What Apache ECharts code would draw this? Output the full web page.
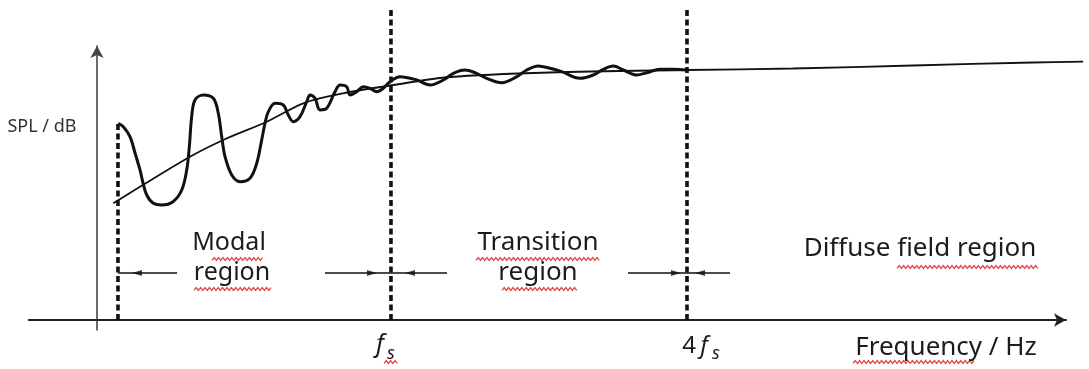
<!DOCTYPE html>
<html><head><meta charset="utf-8">
<script src="https://cdn.jsdelivr.net/npm/echarts@6/dist/echarts.min.js"></script>
<style>html,body{margin:0;padding:0;background:#fff}#c{width:1089px;height:369px}</style>
</head><body><div id="c"></div>
<script>
// Abstract units: x = relative frequency position (0 at SPL axis), y = relative SPL
const trendX = [1.67, 4.41, 9.54, 12.95, 17.41, 21.16, 25.26, 30.39, 36.21, 46.46, 60.51, 71.38, 83.69, 96.0, 101.13];
const trendY = [41.98, 47.95, 58.74, 64.75, 71.33, 77.95, 81.55, 84.53, 87.41, 89.03, 89.93, 90.47, 91.55, 92.63, 92.91];

const respX = [2.18, 2.70, 3.38, 3.90, 4.41, 4.72, 5.10, 5.74, 6.64, 7.79, 8.69, 9.20, 9.47, 9.71, 10.05, 10.90, 11.93, 12.44, 12.79, 13.13, 13.82, 14.67, 15.69, 16.38, 16.89, 17.23, 17.57, 18.26, 19.11, 19.62, 20.13, 20.82, 21.51, 21.85, 22.36, 22.87, 23.56, 24.41, 24.92, 25.61, 25.95, 26.64, 27.31, 28.0, 28.69, 29.36, 30.05, 31.08, 32.79, 34.15, 35.52, 36.54, 37.74, 38.77, 39.97, 41.51, 43.05, 44.07, 45.26, 46.46, 47.66, 49.54, 50.9, 51.93, 52.95, 53.98, 55.35, 56.38, 57.74, 59.11, 60.48];
const respY = [70.76, 69.53, 65.94, 60.07, 53.96, 49.28, 44.96, 42.09, 41.37, 42.55, 46.76, 53.96, 62.34, 73.13, 79.14, 80.94, 79.75, 74.35, 65.94, 58.74, 52.16, 49.75, 50.97, 56.37, 64.75, 70.76, 74.93, 77.95, 77.34, 73.74, 71.33, 73.13, 78.53, 80.94, 79.75, 75.54, 76.15, 82.12, 84.53, 83.92, 80.94, 82.12, 83.92, 83.35, 82.12, 83.35, 85.72, 87.52, 86.33, 84.53, 86.33, 88.74, 89.93, 88.96, 86.94, 85.36, 87.52, 89.93, 91.37, 90.54, 89.32, 86.94, 88.13, 90.18, 91.37, 89.93, 88.13, 88.96, 90.18, 90.18, 89.93];

const boundaryX = [2.15, 30.15, 60.51];
const boundaryTop = [70.5, 111.5, 111.5];

const arrowLevel = 16.9;
const arrowSegments = [[2.15, 8.21], [23.38, 30.15], [30.15, 35.9], [54.46, 60.51], [60.51, 64.92]];
const arrowHeadsLeft = [4.10, 32.1, 61.85];
const arrowHeadsRight = [28.2, 59.38];

const regionLabels = ['Modal', 'region', 'Transition', 'region', 'Diffuse field region'];
const axisTitles = ['SPL / dB', 'Frequency / Hz'];
const tickLabels = [['', 'f', 's'], ['4', 'f', 's']];

(function () {
const FONT = '"Noto Sans", "Open Sans", sans-serif';
const X_MIN = -7, X_MAX = 99.38, Y_MIN = -3.6, Y_MAX = 98.56;
const PX_PER_X = 9.7505;
const X_MAX_WIDE = 101.6;
const series = [];
const onPlot = { xAxisIndex: 1, yAxisIndex: 1 };

boundaryX.forEach((x, i) => {
  series.push(Object.assign({
    type: 'line', data: [[x, 0], [x, boundaryTop[i]]], symbol: 'none', clip: false, silent: true,
    lineStyle: { color: '#111', width: 3.6, type: [6, 3.5] }, z: 3
  }, onPlot));
});

series.push(Object.assign({
  type: 'line', data: trendX.map((x, i) => [x, trendY[i]]), symbol: 'none', clip: false,
  smooth: 0.3, lineStyle: { color: '#111', width: 1.8 }, z: 4
}, onPlot));
series.push(Object.assign({
  type: 'line', data: respX.map((x, i) => [x, respY[i]]), symbol: 'none', clip: false,
  smooth: 0.35, lineStyle: { color: '#111', width: 3 }, z: 5
}, onPlot));

arrowSegments.forEach(s => {
  series.push(Object.assign({
    type: 'line', data: [[s[0], arrowLevel], [s[1], arrowLevel]], symbol: 'none',
    lineStyle: { color: '#111', width: 1.6 }, z: 4
  }, onPlot));
});
series.push(Object.assign({
  type: 'scatter', data: arrowHeadsLeft.map(x => [x, arrowLevel]),
  symbol: 'path://M10,0 L0,4 L10,8 Z', symbolSize: [10, 6], itemStyle: { color: '#111' }, z: 6
}, onPlot));
series.push(Object.assign({
  type: 'scatter', data: arrowHeadsRight.map(x => [x, arrowLevel]),
  symbol: 'path://M0,0 L10,4 L0,8 Z', symbolSize: [10, 6], itemStyle: { color: '#111' }, z: 6
}, onPlot));

function txt(t, x, y, size, opts) {
  return {
    type: 'text', x: x, y: y, z: 10,
    style: Object.assign({ text: t, fontSize: size, fontFamily: FONT, fill: '#1c1c1c', align: 'center', verticalAlign: 'middle' }, (opts || {}))
  };
}
// spell-check style wavy underline seen in the source image
function squiggle(x1, x2, y) {
  const pts = [];
  let k = 0;
  for (let x = x1; x <= x2; x += 2.2, k++) pts.push([x, y + (k % 2 ? -1.4 : 1.4)]);
  return { type: 'polyline', z: 9, shape: { points: pts }, style: { stroke: '#df4a4a', lineWidth: 1.3, fill: null } };
}

const gLeft = 28.75, gTop = 46, gBottom = 39;
const chart = echarts.init(document.getElementById('c'));
const hiddenAxis = { show: false };
chart.setOption({
  animation: false,
  backgroundColor: '#fff',
  grid: [
    { left: gLeft, right: 1089 - gLeft - (X_MAX - X_MIN) * PX_PER_X, top: gTop, bottom: gBottom, containLabel: false },
    { left: gLeft, right: 1089 - gLeft - (X_MAX_WIDE - X_MIN) * PX_PER_X, top: gTop, bottom: gBottom, containLabel: false }
  ],
  xAxis: [{
    type: 'value', min: X_MIN, max: X_MAX, gridIndex: 0,
    axisLine: { onZero: true, symbol: ['none', 'arrow'], symbolSize: [10, 12], lineStyle: { color: '#222', width: 2 } },
    axisTick: { show: false }, axisLabel: { show: false }, splitLine: { show: false }
  }, Object.assign({ type: 'value', min: X_MIN, max: X_MAX_WIDE, gridIndex: 1 }, hiddenAxis)],
  yAxis: [{
    type: 'value', min: Y_MIN, max: Y_MAX, gridIndex: 0,
    axisLine: { show: true, onZero: true, symbol: ['none', 'arrow'], symbolSize: [10, 12], lineStyle: { color: '#444', width: 1.6 } },
    axisTick: { show: false }, axisLabel: { show: false }, splitLine: { show: false }
  }, Object.assign({ type: 'value', min: Y_MIN, max: Y_MAX, gridIndex: 1 }, hiddenAxis)],
  series: series,
  graphic: [
    txt(axisTitles[0], 42, 127, 18, { fill: '#333' }),
    txt(regionLabels[0], 229, 243, 25),
    txt(regionLabels[1], 232, 273, 25),
    txt(regionLabels[2], 538, 243, 26),
    txt(regionLabels[3], 538, 273, 26),
    txt(regionLabels[4], 920, 249, 26),
    txt(axisTitles[1], 946, 348, 26),
    txt(tickLabels[0][1], 380, 345, 25, { fontStyle: 'italic' }),
    txt(tickLabels[0][2], 391, 354, 18, { fontStyle: 'italic' }),
    txt(tickLabels[1][0], 689, 346, 24),
    txt(tickLabels[1][1], 704, 346, 24, { fontStyle: 'italic' }),
    txt(tickLabels[1][2], 716, 354, 18, { fontStyle: 'italic' }),
    squiggle(212, 264, 259),
    squiggle(194, 272, 289),
    squiggle(476, 600, 259),
    squiggle(502, 578, 289),
    squiggle(897, 1040, 267),
    squiggle(853, 975, 362),
    squiggle(384, 398, 362)
  ]
});
})();
</script></body></html>
